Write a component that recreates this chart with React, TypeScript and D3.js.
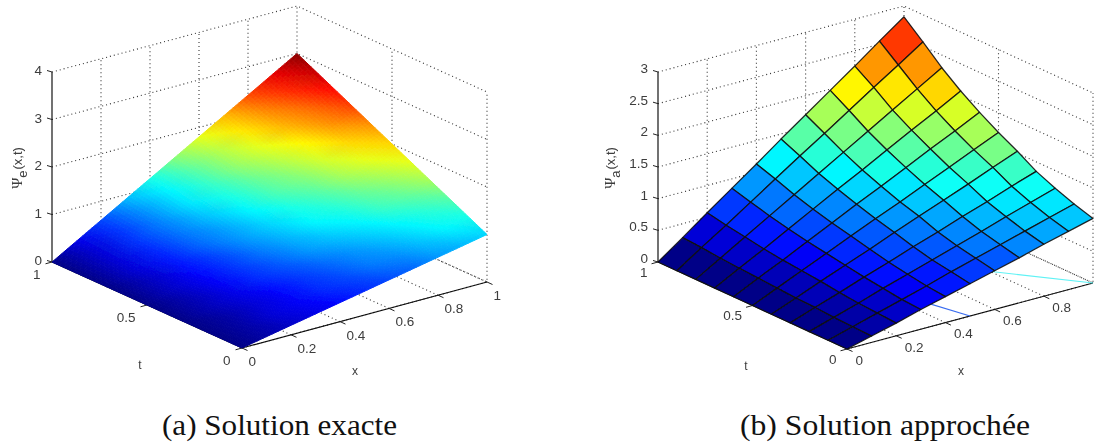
import React from "react";
import * as d3 from "d3";

const xTicks = [0, 0.2, 0.4, 0.6, 0.8, 1];
const tTicks = [0, 0.5, 1];
const zTicksA = [0, 1, 2, 3, 4];
const zTicksB = [0, 0.5, 1, 1.5, 2, 2.5, 3];
const gridCoords = [0, 0.1, 0.2, 0.3, 0.4, 0.5, 0.6, 0.7, 0.8, 0.9, 1];

// rows: t, columns: x
const exactValues = [
  [0, .10, .20, .30, .40, .50, .60, .70, .80, .90, 1.0],
  [0, .12, .24, .36, .48, .60, .72, .84, .96, 1.08, 1.2],
  [0, .14, .28, .42, .56, .70, .84, .98, 1.12, 1.26, 1.4],
  [0, .16, .32, .48, .64, .80, .96, 1.12, 1.28, 1.44, 1.6],
  [0, .18, .36, .54, .72, .90, 1.08, 1.26, 1.44, 1.62, 1.8],
  [0, .20, .40, .60, .80, 1.0, 1.20, 1.40, 1.60, 1.80, 2.0],
  [0, .22, .44, .66, .88, 1.1, 1.32, 1.54, 1.76, 1.98, 2.2],
  [0, .24, .48, .72, .96, 1.2, 1.44, 1.68, 1.92, 2.16, 2.4],
  [0, .26, .52, .78, 1.04, 1.3, 1.56, 1.82, 2.08, 2.34, 2.6],
  [0, .28, .56, .84, 1.12, 1.4, 1.68, 1.96, 2.24, 2.52, 2.8],
  [0, .30, .60, .90, 1.20, 1.5, 1.80, 2.10, 2.40, 2.70, 3.0],
];
const approxValues = [
  [0, .10, .20, .31, .41, .51, .61, .71, .82, .92, 1.02],
  [0, .11, .22, .33, .44, .56, .67, .78, .89, 1.00, 1.11],
  [0, .12, .24, .37, .49, .61, .73, .85, .98, 1.10, 1.22],
  [0, .14, .27, .41, .54, .68, .81, .95, 1.08, 1.22, 1.35],
  [0, .15, .31, .46, .61, .77, .92, 1.07, 1.22, 1.38, 1.53],
  [0, .17, .34, .51, .68, .85, 1.01, 1.18, 1.35, 1.52, 1.69],
  [0, .19, .37, .56, .75, .94, 1.12, 1.31, 1.50, 1.68, 1.87],
  [0, .21, .41, .62, .83, 1.04, 1.24, 1.45, 1.66, 1.86, 2.07],
  [0, .23, .46, .69, .92, 1.15, 1.38, 1.61, 1.84, 2.07, 2.30],
  [0, .26, .51, .77, 1.03, 1.29, 1.54, 1.80, 2.06, 2.31, 2.57],
  [0, .28, .57, .85, 1.13, 1.42, 1.70, 1.98, 2.26, 2.55, 2.83],
];
// two stray coloured segments on the floor of panel b: [x0, t0, x1, t1], colour
const strays: [number[], string][] = [
  [[0.46, 0.19, 0.5, 0.0], "#3a6cf0"],
  [[0.6, 0.57, 1, 0], "#5ff2f5"],
];

const jetStops = [0, 0.125, 0.375, 0.625, 0.875, 1];
const jetR = d3.scaleLinear().domain(jetStops).range([0, 0, 0, 1, 1, 0.5]).clamp(true);
const jetG = d3.scaleLinear().domain(jetStops).range([0, 0, 1, 1, 0, 0]).clamp(true);
const jetB = d3.scaleLinear().domain(jetStops).range([0.5, 1, 1, 0, 0, 0]).clamp(true);
function jet(v: number): number[] {
  const q = (Math.min(63, Math.floor(v * 64)) + 0.5) / 64;
  return [jetR(q) * 255, jetG(q) * 255, jetB(q) * 255];
}
const rgb = (c: number[]) => `rgb(${c.map((d) => Math.round(d)).join(",")})`;

type P = { fx: number; fy: number; rx: number; ry: number; lx: number; ly: number; zPx: number; zMax: number };

function makeProj(p: P) {
  const xX = d3.scaleLinear().domain([0, 1]).range([0, p.rx - p.fx]);
  const xY = d3.scaleLinear().domain([0, 1]).range([0, p.ry - p.fy]);
  const tX = d3.scaleLinear().domain([0, 1]).range([0, p.lx - p.fx]);
  const tY = d3.scaleLinear().domain([0, 1]).range([0, p.ly - p.fy]);
  const zY = d3.scaleLinear().domain([0, p.zMax]).range([0, p.zPx]);
  return (x: number, t: number, z = 0): [number, number] => [
    p.fx + xX(x) + tX(t),
    p.fy + xY(x) + tY(t) - zY(z),
  ];
}
const line = d3.line();
const closed = (pts: [number, number][]) => line(pts) + "Z";

const tickFont = "'Liberation Sans', Arial, sans-serif";
const inkGrey = "#3c3c3c";

function Frame({ proj, zTicks, zMax, labelOff, zOff, xLast }: any) {
  const dotted = { stroke: "#333", strokeWidth: 1.1, strokeDasharray: "1 3", fill: "none" };
  const segs: [number, number][][] = [];
  for (const z of zTicks.filter((d: number) => d > 0)) {
    segs.push([proj(0, 1, z), proj(1, 1, z), proj(1, 0, z)]);
  }
  for (const x of xTicks) {
    if (x > 0) segs.push([proj(x, 0), proj(x, 1), proj(x, 1, zMax)]);
  }
  for (const t of tTicks) {
    if (t < 1) segs.push([proj(0, t), proj(1, t), proj(1, t, zMax)]);
  }
  segs.push([proj(0, 1), proj(1, 1), proj(1, 0)]);
  return (
    <g>
      {segs.map((s, i) => (
        <path key={i} d={line(s)!} {...dotted} />
      ))}
      <path d={line([proj(0, 1, zMax), proj(0, 1)])!} stroke="#111" strokeWidth={1.2} fill="none" />
      <path d={line([proj(0, 1), proj(0, 0), proj(1, 0)])!} stroke="#111" strokeWidth={1.1} fill="none" />
      {zTicks.map((z: number) => {
        const a = proj(0, 1, z);
        return (
          <g key={z}>
            <path d={line([a, [a[0] - 5, a[1] - 1.5]])!} stroke="#222" fill="none" />
            <text x={a[0] - 10} y={a[1] + zOff} fontFamily={tickFont} fontSize={13.5} fill={inkGrey} textAnchor="end" dominantBaseline="central">{z}</text>
          </g>
        );
      })}
      {xTicks.filter((x) => x <= xLast).map((x) => {
        const a = proj(x, 0);
        return (
          <g key={x}>
            <path d={line([a, [a[0] + 5.5, a[1] + 2.5]])!} stroke="#222" fill="none" />
            <text x={a[0] + labelOff.x[0]} y={a[1] + labelOff.x[1]} fontFamily={tickFont} fontSize={13.5} fill={inkGrey} dominantBaseline="central">{x}</text>
          </g>
        );
      })}
      {tTicks.map((t) => {
        const a = proj(0, t);
        return (
          <g key={t}>
            <path d={line([a, [a[0] - 6.5, a[1] + 1.8]])!} stroke="#222" fill="none" />
            <text x={a[0] + labelOff.t[0]} y={a[1] + labelOff.t[1]} fontFamily={tickFont} fontSize={13.5} fill={inkGrey} textAnchor="end" dominantBaseline="central">{t}</text>
          </g>
        );
      })}
    </g>
  );
}

function Smooth({ proj, values, cmax }: any) {
  const n = 8;
  const cs = d3.scaleLinear().domain([0, cmax]).range([0, 1]);
  const polys: { d: string; f: string }[] = [];
  for (let j = gridCoords.length - 2; j >= 0; j--) {
    for (let i = gridCoords.length - 2; i >= 0; i--) {
      const c00 = jet(cs(values[j][i]));
      const c10 = jet(cs(values[j][i + 1]));
      const c01 = jet(cs(values[j + 1][i]));
      const c11 = jet(cs(values[j + 1][i + 1]));
      const pt = (u: number, v: number) => {
        const x = gridCoords[i] + 0.1 * u;
        const t = gridCoords[j] + 0.1 * v;
        const z = d3.interpolateNumber(
          d3.interpolateNumber(values[j][i], values[j][i + 1])(u),
          d3.interpolateNumber(values[j + 1][i], values[j + 1][i + 1])(u),
        )(v);
        return proj(x, t, z);
      };
      for (let a = n - 1; a >= 0; a--) {
        for (let b = n - 1; b >= 0; b--) {
          const u0 = b / n, u1 = (b + 1) / n, v0 = a / n, v1 = (a + 1) / n;
          const um = (u0 + u1) / 2, vm = (v0 + v1) / 2;
          // colours run linearly across the two triangles of each mesh cell
          const col = [0, 1, 2].map((k) =>
            um + vm < 1
              ? c00[k] + um * (c10[k] - c00[k]) + vm * (c01[k] - c00[k])
              : c11[k] + (1 - um) * (c01[k] - c11[k]) + (1 - vm) * (c10[k] - c11[k]));
          polys.push({ d: closed([pt(u0, v0), pt(u1, v0), pt(u1, v1), pt(u0, v1)]), f: rgb(col) });
        }
      }
    }
  }
  return (
    <g>
      {polys.map((p, i) => (
        <path key={i} d={p.d} fill={p.f} stroke={p.f} strokeWidth={1} strokeLinejoin="round" />
      ))}
    </g>
  );
}

function Flat({ proj, values, cmax }: any) {
  const cs = d3.scaleLinear().domain([0, cmax]).range([0, 1]);
  const cells: { d: string; f: string }[] = [];
  for (let j = gridCoords.length - 2; j >= 0; j--) {
    for (let i = gridCoords.length - 2; i >= 0; i--) {
      cells.push({
        d: closed([
          proj(gridCoords[i], gridCoords[j], values[j][i]),
          proj(gridCoords[i + 1], gridCoords[j], values[j][i + 1]),
          proj(gridCoords[i + 1], gridCoords[j + 1], values[j + 1][i + 1]),
          proj(gridCoords[i], gridCoords[j + 1], values[j + 1][i]),
        ]),
        f: rgb(jet(cs(values[j][i]))),
      });
    }
  }
  return (
    <g>
      {cells.map((c, i) => (
        <path key={i} d={c.d} fill={c.f} stroke="#111" strokeOpacity={0.9} strokeWidth={1.25} strokeLinejoin="round" />
      ))}
    </g>
  );
}

function Psi({ x, y, sub }: { x: number; y: number; sub: string }) {
  return (
    <text transform={`translate(${x},${y}) rotate(-90)`} textAnchor="middle" fontSize={13} fill={inkGrey} fontFamily={tickFont}>
      <tspan fontFamily="'Liberation Serif', serif" fontSize={15}>Ψ</tspan>
      <tspan dy={5}>{sub}</tspan>
      <tspan dy={-5} dx={1}>(x,t)</tspan>
    </text>
  );
}

const panelA: P = { fx: 242, fy: 348, rx: 487, ry: 282, lx: 52, ly: 262, zPx: 190, zMax: 4 };
const panelB: P = { fx: 847, fy: 349, rx: 1093, ry: 283, lx: 658, ly: 262, zPx: 190, zMax: 3 };

export default function App() {
  const pa = makeProj(panelA);
  const pb = makeProj(panelB);
  return (
    <svg width={1101} height={446} style={{ position: "absolute", left: 0, top: 0, background: "#fff" }}>
      <defs>
        <filter id="soft" x="0" y="0" width="1101" height="446" filterUnits="userSpaceOnUse">
          <feGaussianBlur stdDeviation="0.35" />
        </filter>
      </defs>
      <g filter="url(#soft)">
        <Frame proj={pa} zTicks={zTicksA} zMax={4} zOff={-1.5} xLast={1} labelOff={{ x: [6.5, 13.5], t: [-11.5, 12.5] }} />
        <Smooth proj={pa} values={exactValues} cmax={3} />
        <Psi x={22} y={168} sub="e" />
        <text x={140} y={365} fontFamily={tickFont} fontSize={12} fill={inkGrey} textAnchor="middle" dominantBaseline="central">t</text>
        <text x={355} y={371} fontFamily={tickFont} fontSize={12} fill={inkGrey} textAnchor="middle" dominantBaseline="central">x</text>

        <Frame proj={pb} zTicks={zTicksB} zMax={3} zOff={-3.5} xLast={0.8} labelOff={{ x: [8.5, 11.3], t: [-10.5, 10] }} />
        {strays.map(([s, c], i) => (
          <path key={i} d={line([pb(s[0], s[1]), pb(s[2], s[3])])!} stroke={c} strokeWidth={1.1} fill="none" />
        ))}
        <Flat proj={pb} values={approxValues} cmax={2.83} />
        <Psi x={615} y={168} sub="a" />
        <text x={746} y={366} fontFamily={tickFont} fontSize={12} fill={inkGrey} textAnchor="middle" dominantBaseline="central">t</text>
        <text x={961} y={371} fontFamily={tickFont} fontSize={12} fill={inkGrey} textAnchor="middle" dominantBaseline="central">x</text>
      </g>
      <text x={279.5} y={435} textAnchor="middle" fontFamily="'Liberation Serif', serif" fontSize={29} fill="#111" textLength={235} lengthAdjust="spacingAndGlyphs">(a) Solution exacte</text>
      <text x={885} y={435} textAnchor="middle" fontFamily="'Liberation Serif', serif" fontSize={29} fill="#111" textLength={290} lengthAdjust="spacingAndGlyphs">(b) Solution approchée</text>
    </svg>
  );
}
